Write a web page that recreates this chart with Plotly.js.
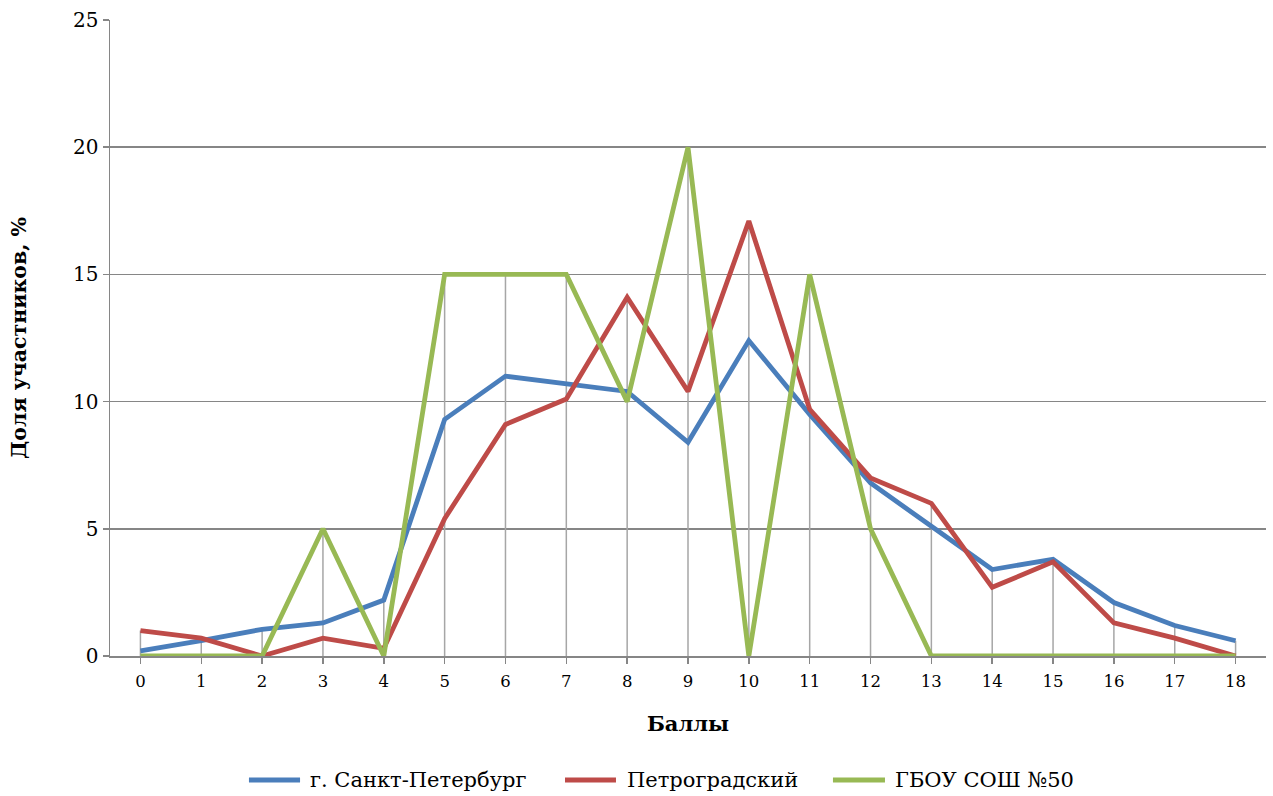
<!DOCTYPE html>
<html>
<head>
<meta charset="utf-8">
<script src="https://cdn.plot.ly/plotly-3.0.1.min.js"></script>
<style>html,body{margin:0;padding:0;background:#fff;}#chart{width:1273px;height:796px;}</style>
</head>
<body>
<div id="chart"></div>
<script>
const categories = [0,1,2,3,4,5,6,7,8,9,10,11,12,13,14,15,16,17,18];
const spbValues = [0.2,0.6,1.05,1.3,2.2,9.3,11.0,10.7,10.4,8.4,12.4,9.5,6.8,5.1,3.4,3.8,2.1,1.2,0.6];
const petroValues = [1.0,0.7,0.0,0.7,0.3,5.4,9.1,10.1,14.1,10.4,17.1,9.7,7.0,6.0,2.7,3.7,1.3,0.7,0.0];
const school50Values = [0,0,0,5,0,15,15,15,10,20,0,15,5,0,0,0,0,0,0];
const seriesNames = ["г. Санкт-Петербург","Петроградский","ГБОУ СОШ №50"];
const seriesColors = ['#4a7ebb','#be4b48','#98b954'];
const yTicks = [0,5,10,15,20,25];

const font = "DejaVu Serif";

// drop lines from axis to the highest value at each category
const dropX = [], dropY = [];
categories.forEach((c,i)=>{
  const m = Math.max(spbValues[i], petroValues[i], school50Values[i]);
  dropX.push(c,c,null); dropY.push(0,m,null);
});

const allSeries = [spbValues, petroValues, school50Values];
const traces = [
  {x:dropX, y:dropY, mode:'lines', line:{color:'#a6a6a6', width:1.5}, showlegend:false, hoverinfo:'skip'}
];
allSeries.forEach((vals,k)=>{
  traces.push({x:categories, y:vals, name:seriesNames[k], mode:'lines', line:{color:seriesColors[k], width:4.8}, showlegend:false});
});

// manual legend (paper coordinates)
const legendPos = [[0.1202,0.1644,0.1713],[0.3936,0.4377,0.4455],[0.6254,0.6704,0.6773]];
const legendY = -0.195;
const shapes = [], annotations = [];
legendPos.forEach((p,k)=>{
  shapes.push({type:'line', xref:'paper', yref:'paper', x0:p[0], x1:p[1], y0:legendY, y1:legendY, line:{color:seriesColors[k], width:5}});
  annotations.push({xref:'paper', yref:'paper', x:p[2], y:legendY, xanchor:'left', yanchor:'middle', text:seriesNames[k], showarrow:false, font:{family:font, size:21, color:'#000'}});
});

const layout = {
  width:1273, height:796,
  margin:{l:110, r:7, t:20, b:140},
  paper_bgcolor:'#fff', plot_bgcolor:'#fff',
  font:{family:font, color:'#000'},
  showlegend:false,
  shapes:shapes, annotations:annotations,
  xaxis:{
    range:[-0.5,18.5], tickmode:'array', tickvals:categories, ticktext:categories.map(String),
    showgrid:false, zeroline:false, showline:true, linecolor:'#868686', linewidth:1.5,
    ticks:'outside', ticklen:6, tickcolor:'#868686', tickwidth:1.5,
    tickfont:{family:font, size:16.5}, tickson:'boundaries', ticklabelstandoff:4,
    title:{text:'<b>Баллы</b>', font:{family:font, size:21}, standoff:26}
  },
  yaxis:{
    range:[0,25], tickmode:'array', tickvals:yTicks,
    showgrid:true, gridcolor:'#868686', gridwidth:1.5,
    zeroline:false, showline:true, linecolor:'#868686', linewidth:1.5,
    ticks:'outside', ticklen:6, tickcolor:'#868686', tickwidth:1.5,
    tickfont:{family:font, size:20},
    title:{text:'<b>Доля участников, %</b>', font:{family:font, size:20.5}, standoff:41}
  }
};

Plotly.newPlot('chart', traces, layout, {displayModeBar:false, staticPlot:true});
</script>
</body>
</html>
